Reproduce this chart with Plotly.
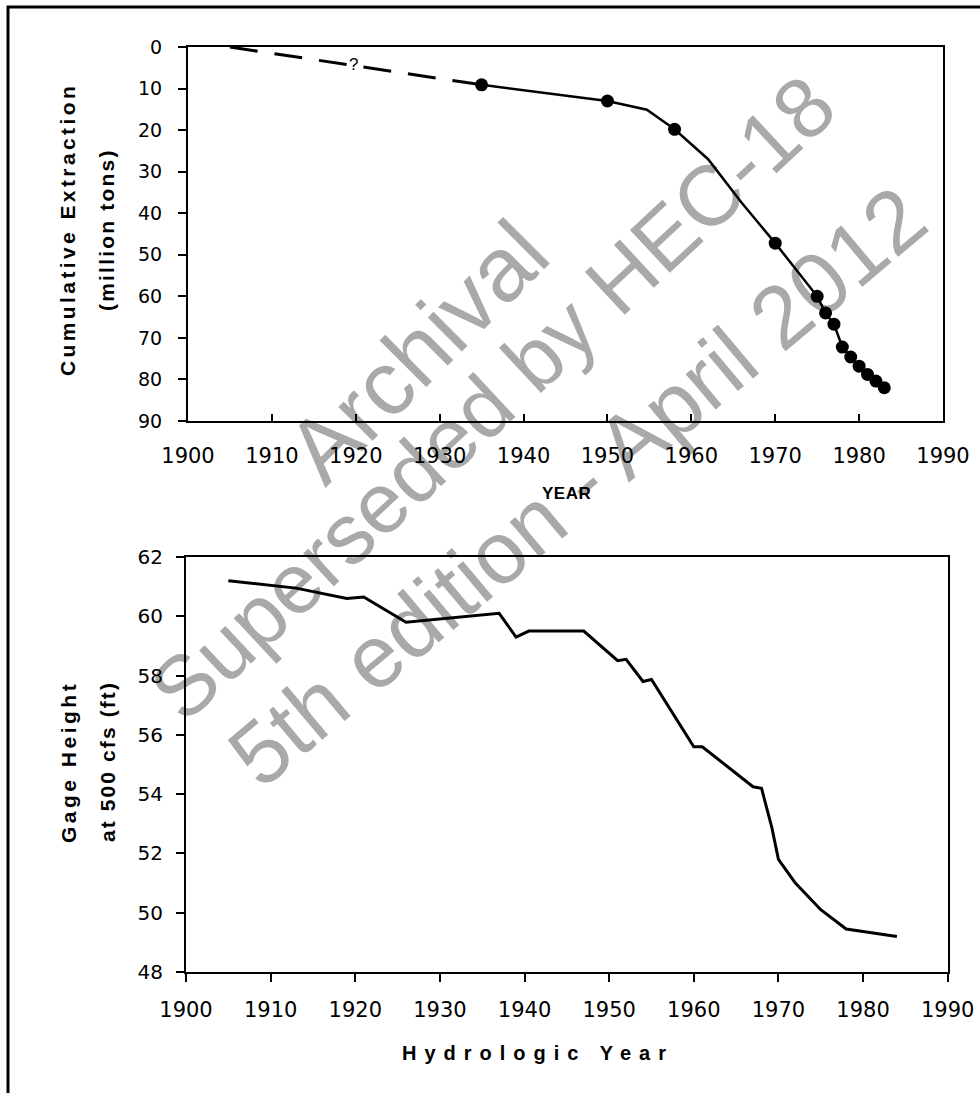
import math
import plotly.graph_objects as go

W, H = 980, 1093

# ---------------- data: top panel (cumulative extraction, million tons) ----------------
extr_dash_year = [1905, 1935]
extr_dash_val = [0, 9.1]
extr_line_year = [1935, 1950, 1954.7, 1958, 1962, 1966, 1970, 1975, 1976, 1977, 1978, 1979, 1980, 1981, 1982, 1983]
extr_line_val = [9.1, 13.0, 15.1, 19.8, 27.0, 37.5, 47.2, 60.0, 64.0, 66.7, 72.2, 74.6, 76.8, 78.8, 80.4, 82.0]
extr_pt_year = [1935, 1950, 1958, 1970, 1975, 1976, 1977, 1978, 1979, 1980, 1981, 1982, 1983]
extr_pt_val = [9.1, 13.0, 19.8, 47.2, 60.0, 64.0, 66.7, 72.2, 74.6, 76.8, 78.8, 80.4, 82.0]

# ---------------- data: bottom panel (gage height at 500 cfs, ft) ----------------
gage_year = [1905, 1913, 1919, 1921, 1926, 1937, 1939, 1940.5, 1947, 1951, 1952, 1954, 1955,
             1960, 1961, 1967, 1968, 1969.2, 1970, 1972, 1975, 1978, 1984]
gage_val = [61.2, 60.95, 60.6, 60.65, 59.8, 60.1, 59.3, 59.5, 59.5, 58.5, 58.55, 57.8, 57.87,
            55.6, 55.6, 54.25, 54.2, 52.9, 51.8, 51.0, 50.1, 49.45, 49.2]

year_ticks = list(range(1900, 1991, 10))
extr_ticks = list(range(0, 91, 10))
gage_ticks = list(range(48, 63, 2))


def px(x):
    return x / W


def py(y):
    return 1 - y / H


fig = go.Figure()

fig.add_trace(go.Scatter(x=extr_dash_year, y=extr_dash_val, mode="lines",
                         line=dict(color="black", width=3, dash="28px,17px"),
                         xaxis="x", yaxis="y", showlegend=False))
fig.add_trace(go.Scatter(x=extr_line_year, y=extr_line_val, mode="lines",
                         line=dict(color="black", width=2.5),
                         xaxis="x", yaxis="y", showlegend=False))
fig.add_trace(go.Scatter(x=extr_pt_year, y=extr_pt_val, mode="markers",
                         marker=dict(color="black", size=13),
                         xaxis="x", yaxis="y", showlegend=False))
fig.add_trace(go.Scatter(x=gage_year, y=gage_val, mode="lines",
                         line=dict(color="black", width=3),
                         xaxis="x2", yaxis="y2", showlegend=False))


def axis_common(size):
    return dict(showline=True, linecolor="black", linewidth=2, mirror=True,
                showgrid=False, zeroline=False, tickcolor="black", tickwidth=1.5,
                automargin=False,
                tickfont=dict(family="DejaVu Sans", size=size, color="black"))


fig.update_layout(
    width=W, height=H,
    margin=dict(l=0, r=0, t=0, b=0, pad=0, autoexpand=False),
    paper_bgcolor="white",
    plot_bgcolor="rgba(0,0,0,0)",
    xaxis=dict(domain=[px(188), px(943)], anchor="y", range=[1900, 1990],
               tickvals=year_ticks, ticks="inside", ticklen=7, ticklabelstandoff=15,
               **axis_common(21)),
    yaxis=dict(domain=[py(421), py(47)], anchor="x", range=[90, 0],
               tickvals=extr_ticks, ticks="outside", ticklen=8, ticklabelstandoff=12,
               **axis_common(19)),
    xaxis2=dict(domain=[px(186), px(947.7)], anchor="y2", range=[1900, 1990],
                tickvals=year_ticks, ticks="outside", ticklen=8, ticklabelstandoff=10,
                **axis_common(21)),
    yaxis2=dict(domain=[py(972), py(557)], anchor="x2", range=[48, 62],
                tickvals=gage_ticks, ticks="outside", ticklen=8, ticklabelstandoff=9,
                **axis_common(20)),
)


def sp(text, s):
    return "<b><span style='letter-spacing:%spx'>%s</span></b>" % (s, text)


annots = [
    dict(text=sp("Cumulative Extraction", 3.4), x=px(68), y=py(230), textangle=-90, size=21),
    dict(text=sp("(million tons)", 2.2), x=px(107), y=py(230), textangle=-90, size=21),
    dict(text=sp("YEAR", 0.5), x=px(566), y=py(494), textangle=0, size=17),
    dict(text=sp("Gage Height", 3.5), x=px(68), y=py(762), textangle=-90, size=21),
    dict(text=sp("at 500 cfs (ft)", 2.1), x=px(107), y=py(762), textangle=-90, size=21),
    dict(text=sp("Hydrologic Year", 8), x=px(538), y=py(1053), textangle=0, size=20),
]
for a in annots:
    size = a.pop("size")
    fig.add_annotation(xref="paper", yref="paper", xanchor="center", yanchor="middle",
                       showarrow=False,
                       font=dict(family="Liberation Sans", size=size, color="black"), **a)

# question mark on the dashed segment
fig.add_annotation(x=1919.7, y=4.3, xref="x", yref="y", text="?", showarrow=False,
                   bgcolor="white", borderpad=1,
                   font=dict(family="Liberation Sans", size=17, color="black"))

# outer frame
fig.add_shape(type="rect", xref="paper", yref="paper",
              x0=px(8), x1=px(992), y0=py(7), y1=py(1110),
              line=dict(color="black", width=3), fillcolor="rgba(0,0,0,0)")

# watermark text (below the data)
wm = [
    ("Archival", 411, 345, -45, 91),
    ("Superseded by HEC-18", 487, 392, -43, 85),
    ("5th edition - April 2012", 572, 480, -40, 88),
]
for text, cx, cy, ang, fs in wm:
    r = math.radians(-ang)
    dx, dy = 60 * math.cos(r), -60 * math.sin(r)
    fig.add_shape(type="line", xref="paper", yref="paper", layer="below",
                  x0=px(cx - dx), y0=py(cy - dy), x1=px(cx + dx), y1=py(cy + dy),
                  line=dict(width=0, color="rgba(0,0,0,0)"),
                  label=dict(text=text, textangle=ang, textposition="middle",
                             xanchor="center", yanchor="middle", padding=0,
                             font=dict(family="Liberation Sans", size=fs, color="#a9a9a9")))

fig.write_html("out.html")
